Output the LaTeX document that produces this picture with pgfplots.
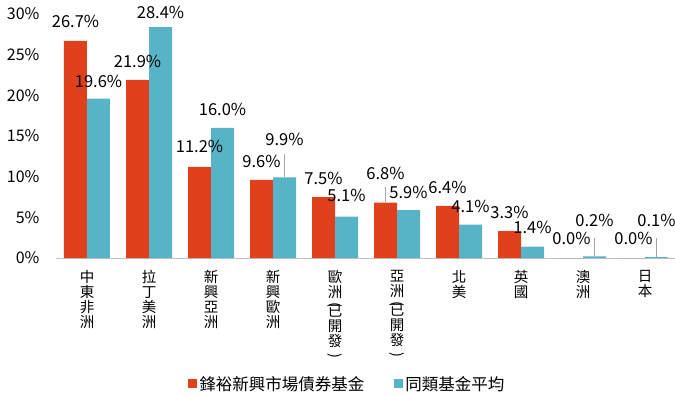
\documentclass[border=0pt]{standalone}
\usepackage{pgfplots}
\pgfplotsset{compat=1.18}
\usepackage{pgfplotstable}
\usepackage{graphicx}
\usepackage{fontspec}
\setmainfont{Noto Sans CJK TC}
\definecolor{cred}{RGB}{224,64,28}
\definecolor{cblue}{RGB}{86,180,198}
\definecolor{lgray}{RGB}{166,166,166}
\newcommand{\lp}{\rotatebox{-90}{(}}
\newcommand{\rp}{\rotatebox{-90}{)}}

\pgfplotstableread{
x y off
0 26.7 19
1 21.9 18
2 11.2 20
3 9.6 18
4 7.5 19
5 6.8 29
6 6.4 18
7 3.3 19
8 0.0 20
9 0.0 20
}\redtab
\pgfplotstableread{
x y off
0 19.6 17
1 28.4 14.5
2 16.0 18
3 9.9 38
4 5.1 21
5 5.9 18
6 4.1 18
7 1.4 19
8 0.2 36
9 0.1 37
}\bluetab

\begin{document}
\begin{tikzpicture}
\path[use as bounding box] (-56bp,-138bp) rectangle (619bp,258bp);
\begin{axis}[
  at={(0,0)}, anchor=south west,
  scale only axis, width=620bp, height=244bp,
  xmin=-0.5, xmax=9.5, ymin=0, ymax=30,
  axis x line*=bottom, axis y line*=left,
  x axis line style={draw=lgray!70, line width=0.8pt, -},
  y axis line style={draw=none},
  major tick length=0pt,
  /pgf/number format/assume math mode=true,
  ytick={0,5,...,30},
  yticklabel={\pgfmathprintnumber{\tick}\%},
  yticklabel style={font=\fontsize{16bp}{18bp}\selectfont, xshift=-13bp},
  xtick={0,...,9},
  xticklabels={{中\\東\\非\\洲},{拉\\丁\\美\\洲},{新\\興\\亞\\洲},{新\\興\\歐\\洲},{歐\\洲\\[-10bp]\lp\\[-3bp]已\\開\\發\\[-8bp]\rp},{亞\\洲\\[-10bp]\lp\\[-3bp]已\\開\\發\\[-8bp]\rp},{北\\美},{英\\國},{澳\\洲},{日\\本}},
  xticklabel style={align=center, anchor=north, inner sep=0pt, yshift=-12bp, font=\fontsize{14.5bp}{15bp}\selectfont},
  legend style={at={(0.47,-0.516)}, anchor=center, draw=none, fill=none, legend columns=2,
    font=\fontsize{16.5bp}{18bp}\selectfont,
    /tikz/every even column/.append style={column sep=28bp}},
  clip=false,
]
\addplot[ybar, bar width=23bp, bar shift=-11.5bp, fill=cred, draw=none,
  legend image code/.code={\fill[cred] (0bp,-4.5bp) rectangle (9bp,4.5bp);},
  visualization depends on={\thisrow{off} \as \myoff},
  nodes near coords={\pgfmathprintnumber[fixed,fixed zerofill,precision=1]{\pgfplotspointmeta}\%},
  every node near coord/.append style={anchor=center, xshift=-11.5bp, yshift=\myoff bp, font=\fontsize{16.5bp}{18bp}\selectfont, text=black}]
  table[x=x,y=y] {\redtab};
\addlegendentry{鋒裕新興市場債券基金}
\addplot[ybar, bar width=23bp, bar shift=11.5bp, fill=cblue, draw=none,
  legend image code/.code={\fill[cblue] (0bp,-4.5bp) rectangle (9bp,4.5bp);},
  visualization depends on={\thisrow{off} \as \myoff},
  nodes near coords={\pgfmathprintnumber[fixed,fixed zerofill,precision=1]{\pgfplotspointmeta}\%},
  every node near coord/.append style={anchor=center, xshift=11.5bp, yshift=\myoff bp, font=\fontsize{16.5bp}{18bp}\selectfont, text=black}]
  table[x=x,y=y] {\bluetab};
\addlegendentry{同類基金平均}
\addplot[lgray, line width=0.6pt, forget plot] coordinates {(3.1855,9.9) (3.1855,12.8)};
\addplot[lgray, line width=0.6pt, forget plot] coordinates {(4.8145,6.9) (4.8145,8.73)};
\addplot[lgray, line width=0.6pt, forget plot] coordinates {(8.1855,0.2) (8.1855,2.46)};
\addplot[lgray, line width=0.6pt, forget plot] coordinates {(9.1855,0.1) (9.1855,2.46)};
\end{axis}
\end{tikzpicture}
\end{document}
